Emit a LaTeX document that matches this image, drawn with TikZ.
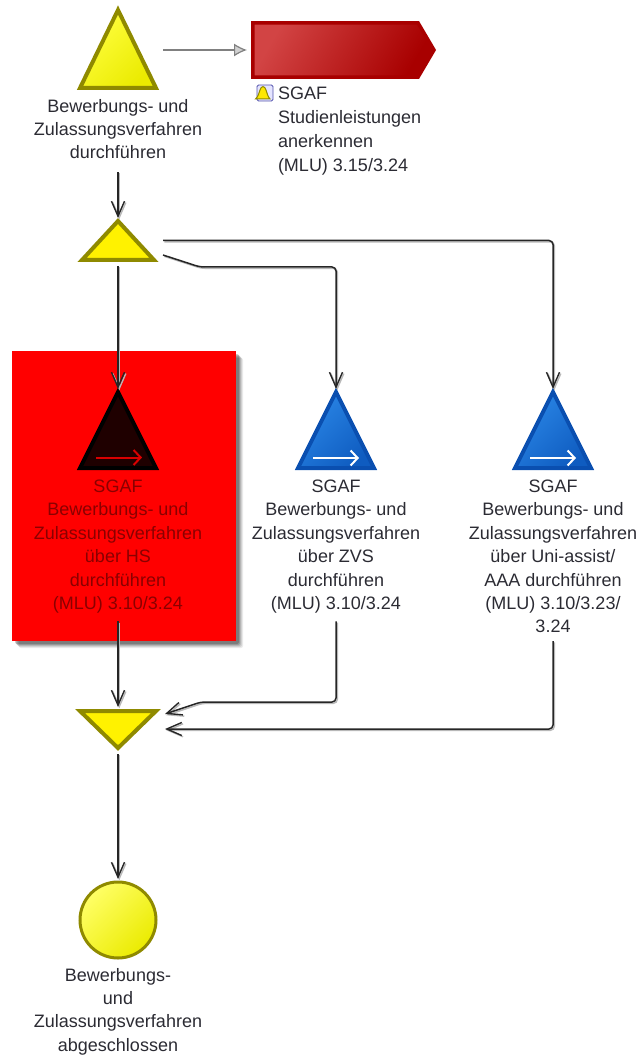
\documentclass[tikz,border=0pt]{standalone}
\usepackage{fontspec}
\setmainfont{Liberation Sans}
\usetikzlibrary{arrows.meta,calc}
\definecolor{txt}{HTML}{2B2B33}
\definecolor{redtxt}{HTML}{8A0000}
\definecolor{oliveb}{HTML}{8F8A00}
\definecolor{blueb}{HTML}{0A4FB0}
\definecolor{bluel}{HTML}{2A86E6}
\definecolor{bluer}{HTML}{0F5CC0}
\definecolor{darkred}{HTML}{A80000}
\definecolor{redl}{HTML}{D24444}
\tikzset{
  x=1pt,y=-1pt,
  box/.style={inner sep=0,outer sep=0,minimum width=#1},
  lbl/.style={inner sep=0,outer sep=0,align=center,text=txt,font=\fontsize{18}{23.4}\selectfont,anchor=north},
  conn/.style={draw=black!85,line width=1.5,rounded corners=4,-{Straight Barb[length=15,width=13,line width=1.4]},
    preaction={draw=black!28,line width=1.5,transform canvas={shift={(1.3pt,-1.3pt)}}}},
  tyellow/.style={draw=oliveb,line width=4,miter limit=10,left color=yellow!75!white,right color=yellow!92!black,shading angle=45},
  tflat/.style={draw=oliveb,line width=4,fill=yellow},
  tblue/.style={draw=blueb,line width=4,left color=bluel,right color=bluer,shading angle=45},
  tblack/.style={draw=black,line width=4,fill=black!88!red},
  inarrow/.style={line width=2,-{Straight Barb[length=7,width=15,line width=2]}},
}
\begin{document}
\begin{tikzpicture}
\useasboundingbox (0,0) rectangle (640,1056);
% soft shadow of the highlighted box
\foreach \d/\o in {7/.08,6/.1,5/.12,4/.16,3/.2}
  \fill[black,opacity=\o,rounded corners=2] (12+\d,351+\d) rectangle (236+\d,641+\d);
\node[box=224,minimum height=290,fill=red,anchor=north west] (hl) at (12,351) {};
% shape holders
\node[box=76,minimum height=78,anchor=south] (t1) at (118,88) {};
\node[box=72,minimum height=39,anchor=south] (t2) at (118,260) {};
\node[box=76,minimum height=76,anchor=south] (t3) at (118,468) {};
\node[box=76,minimum height=76,anchor=south] (t4) at (336,468) {};
\node[box=76,minimum height=76,anchor=south] (t5) at (553,468) {};
\node[box=76,minimum height=37,anchor=north] (m) at (118,711) {};
\node[circle,inner sep=0,outer sep=0,minimum size=76,draw=oliveb,line width=3,left color=yellow!60!white,right color=yellow!92!black,shading angle=45] (e) at (118,920) {};
\path[tyellow] (t1.south west) -- (t1.south east) -- (t1.north) -- cycle;
\path[tflat] (t2.south west) -- (t2.south east) -- (t2.north) -- cycle;
\path[tblack] (t3.south west) -- (t3.south east) -- (t3.north) -- cycle;
\path[tblue] (t4.south west) -- (t4.south east) -- (t4.north) -- cycle;
\path[tblue] (t5.south west) -- (t5.south east) -- (t5.north) -- cycle;
\path[tflat] (m.north west) -- (m.north east) -- (m.south) -- cycle;
\coordinate (a3s) at (96,457.5); \coordinate (a3e) at (142,457.5);
\draw[inarrow,draw=red!85!black] (a3s) -- (a3e);
\coordinate (a4s) at (313,458); \coordinate (a4e) at (359,458);
\draw[inarrow,draw=white] (a4s) -- (a4e);
\coordinate (a5s) at (530,458); \coordinate (a5e) at (576,458);
\draw[inarrow,draw=white] (a5s) -- (a5e);
% process interface
\node[box=168,minimum height=58,anchor=north west] (p) at (251,21) {};
\path[draw=darkred,line width=3.5,left color=redl,right color=darkred,shading angle=60]
  (252.8,22.8) -- (418,22.8) -- (434,50) -- (418,77.2) -- (252.8,77.2) -- cycle;
% icon
\node[box=16,minimum height=16,anchor=north west,fill=blue!10,draw=blue!35!gray,line width=.8,rounded corners=1.5] (ic) at (257,85) {};
\path[fill=yellow!90!orange,draw=oliveb,line width=1] (255.5,99) .. controls (258,97) and (259,93) .. (260,90) .. controls (261,85.5) and (265,85.5) .. (266,90) .. controls (267,93) and (268,97) .. (270,99) -- cycle;
% labels
\node[lbl] (l1) at (118,99) {Bewerbungs- und\\Zulassungsverfahren\\durchführen};
\node[lbl,align=left,anchor=north west,font=\fontsize{18}{24}\selectfont] (lp) at (278,87) {SGAF\\Studienleistungen\\anerkennen\\(MLU) 3.15/3.24};
\node[lbl,text=redtxt] (l3) at (118,480) {SGAF\\Bewerbungs- und\\Zulassungsverfahren\\über HS\\durchführen\\(MLU) 3.10/3.24};
\node[lbl] (l4) at (336,480) {SGAF\\Bewerbungs- und\\Zulassungsverfahren\\über ZVS\\durchführen\\(MLU) 3.10/3.24};
\node[lbl] (l5) at (553,480) {SGAF\\Bewerbungs- und\\Zulassungsverfahren\\über Uni-assist/\\AAA durchführen\\(MLU) 3.10/3.23/\\3.24};
\node[lbl] (l6) at (118,968) {Bewerbungs-\\und\\Zulassungsverfahren\\abgeschlossen};
% connectors
\draw[draw=gray,line width=1.2,-{Latex[length=13,width=13,open,fill=black!18]},shorten >=4] ($(t1.east |- p.west)+(7,0)$) coordinate (g0) -- (p.west);
\draw[conn,shorten <=13,shorten >=3] (l1.south) -- (t2.north);
\draw[conn,shorten >=3,shorten <=4] (t2.south) ++(0,2) -- (t3.north);
\draw[conn,shorten >=3] ($(t2.east)+(9,0)$) coordinate (c4s) -| (l5.north |- t5.north);
\draw[conn,shorten >=3] ($(t2.south east)+(9,-5)$) coordinate (c3s) -- ++(37,12) -| (l4.north |- t4.north);
\draw[conn,shorten <=8,shorten >=4] (l3.south) -- (m.north);
\draw[conn] ($(l4.south)+(0,8)$) |- ($(m.north east)+(45,-9)$) -- ($(m.north east)+(9,3)$) coordinate (c6e);
\draw[conn] ($(l5.south)+(0,8)$) |- ($(m.north east)+(9,18)$) coordinate (c7e);
\draw[conn,shorten <=6,shorten >=3] (m.south) -- (e.north);
\end{tikzpicture}
\end{document}
